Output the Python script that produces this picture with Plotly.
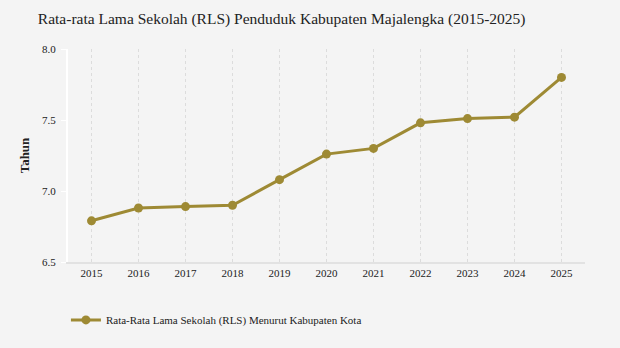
import plotly.graph_objects as go

years = ["2015", "2016", "2017", "2018", "2019", "2020", "2021", "2022", "2023", "2024", "2025"]
rls = [6.79, 6.88, 6.89, 6.90, 7.08, 7.26, 7.30, 7.48, 7.51, 7.52, 7.80]
series_name = "Rata-Rata Lama Sekolah (RLS) Menurut Kabupaten Kota"
title_text = "Rata-rata Lama Sekolah (RLS) Penduduk Kabupaten Majalengka (2015-2025)"
y_ticks = [6.5, 7.0, 7.5, 8.0]

color = "#9e8a34"
serif = "Liberation Serif, Times New Roman, serif"

fig = go.Figure()
fig.add_trace(go.Scatter(
    x=years, y=rls, mode="lines+markers", name=series_name,
    line=dict(color=color, width=3),
    marker=dict(color=color, size=9),
))

fig.update_layout(
    width=620, height=348,
    paper_bgcolor="#f4f4f4", plot_bgcolor="#f4f4f4",
    margin=dict(l=68, r=35, t=49, b=86),
    title=dict(text=title_text, x=0.061, xanchor="left", y=0.948, yanchor="middle",
               font=dict(family=serif, size=15.5, color="#222")),
    font=dict(family=serif, color="#222", size=11),
    showlegend=True,
    legend=dict(orientation="h", x=-0.004, xanchor="left", y=-0.272, yanchor="middle",
                font=dict(family=serif, size=11, color="#222"), bgcolor="rgba(0,0,0,0)"),
    xaxis=dict(type="category", range=[-0.5, 10.5], showgrid=True,
               gridcolor="#dcdcdc", griddash="dot", gridwidth=1,
               showline=True, linecolor="#e2e2e2", linewidth=2,
               ticks="", tickfont=dict(family=serif, size=11), zeroline=False),
    yaxis=dict(range=[6.5, 8.0], tickvals=y_ticks, ticktext=["6.5", "7.0", "7.5", "8.0"],
               showgrid=False, zeroline=False, showline=True, linecolor="#ffffff", linewidth=2,
               ticks="outside", tickcolor="#ffffff", ticklen=5, tickwidth=1,
               ticklabelstandoff=3,
               tickfont=dict(family=serif, size=11),
               title=dict(text="<b>Tahun</b>", font=dict(family=serif, size=13), standoff=9)),
)

fig.write_html("out.html")
